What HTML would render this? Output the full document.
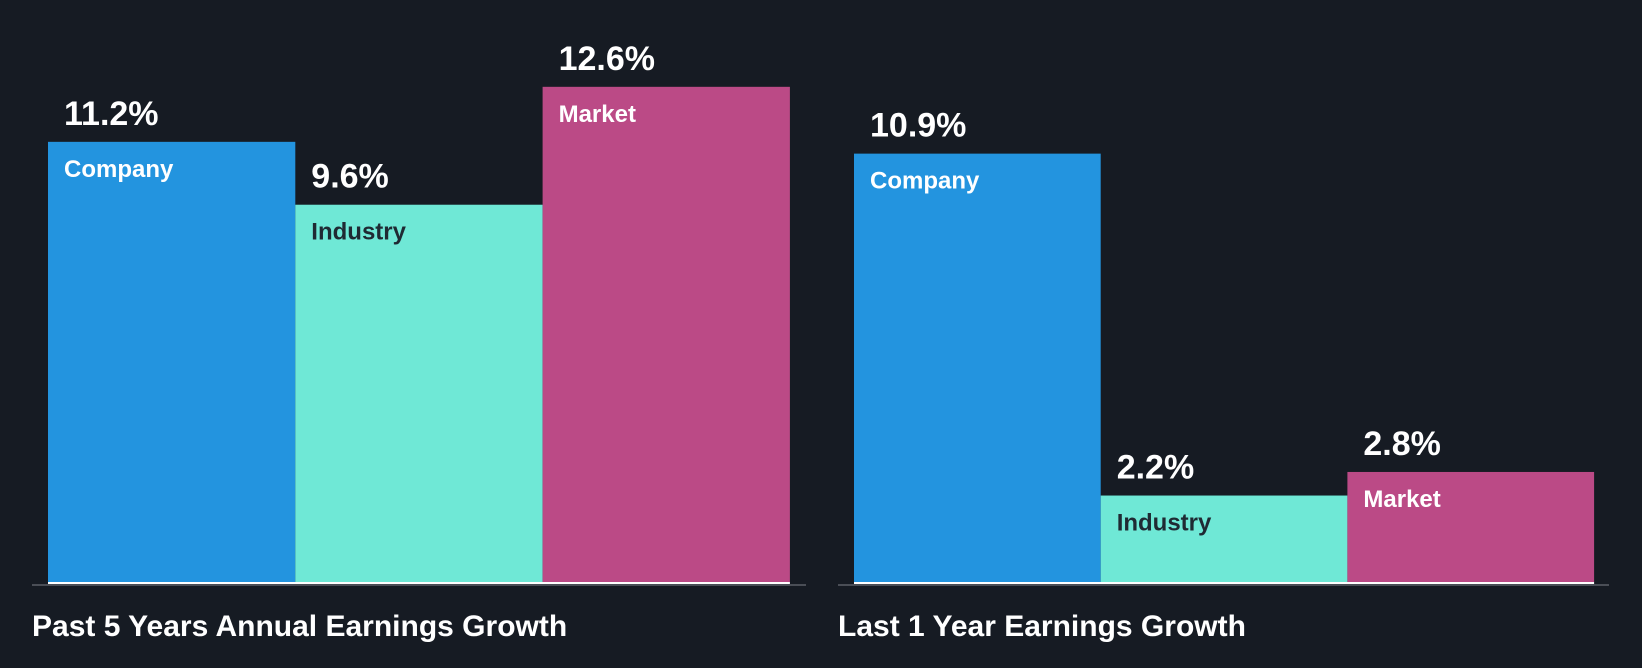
<!DOCTYPE html>
<html><head><meta charset="utf-8"><style>
html,body{margin:0;padding:0;background:#161b23;}
svg{display:block;font-family:"Liberation Sans",Arial,sans-serif;font-weight:bold;}
</style></head><body>
<svg id="chart" width="1642" height="668">
<rect width="1642" height="668" fill="#161b23"/>
</svg>
<script>
const categories = ["Company","Industry","Market"];
const past5Values = [11.2, 9.6, 12.6];
const last1Values = [10.9, 2.2, 2.8];
const panelTitles = ["Past 5 Years Annual Earnings Growth","Last 1 Year Earnings Growth"];

const svg = document.getElementById('chart');
const NS = 'http://www.w3.org/2000/svg';
const colors = ["#2394df","#6fe8d6","#bb4a86"];
const labelColors = ["#ffffff","#1f2a33","#ffffff"];
const baseY = 582, pxPerUnit = 39.3;
function yScale(v){ return baseY - v * pxPerUnit; }
function mk(tag, attrs){ const e=document.createElementNS(NS,tag); for(const k in attrs) e.setAttribute(k,attrs[k]); svg.appendChild(e); return e; }

const panels = [
  {x0:48, bw:247.3, axisX:32, axisW:774, values:past5Values, titleX:32},
  {x0:854, bw:246.7, axisX:838, axisW:771, values:last1Values, titleX:838}
];
panels.forEach((p,pi)=>{
  p.values.forEach((v,i)=>{
    const x = p.x0 + i*p.bw, y = yScale(v);
    const r = mk('rect',{x:x,y:y,width:p.bw,height:baseY-y,fill:colors[i]});
    
    
    const vl = mk('text',{x:x+16,y:y-17,fill:'#ffffff','font-size':'34'});
    vl.textContent = v.toFixed(1) + '%';
    
    
    const cl = mk('text',{x:x+16,y:y+35,fill:labelColors[i],'font-size':'24'});
    cl.textContent = categories[i];
    
    
  });
  const wl = mk('rect',{x:p.x0,y:baseY,width:p.bw*3,height:2,fill:'#ffffff'});
  
  
  const ax = mk('rect',{x:p.axisX,y:baseY+2,width:p.axisW,height:2,fill:'#4a4e56'});
  
  
  const t = mk('text',{x:p.titleX,y:636,fill:'#ffffff','font-size':'30'});
  t.textContent = panelTitles[pi];
  
  
});
</script>
</body></html>
